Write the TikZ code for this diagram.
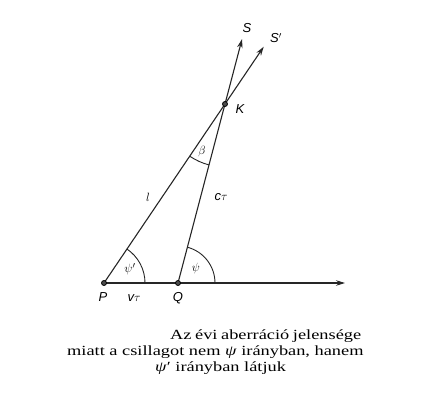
\documentclass[tikz,border=0pt]{standalone}
\usepackage{fontspec}
\setmainfont{Liberation Serif}[FakeStretch=1.31]
\newfontfamily\lblfont{Liberation Sans}
\usetikzlibrary{arrows.meta,angles,calc}
\begin{document}
\begin{tikzpicture}[x=1pt,y=-1pt,
  lineq/.style={line width=1.1pt,draw=black!85},
  arrline/.style={lineq,-{Stealth[length=9pt,width=5.5pt]}},
  dotnode/.style={circle,draw=black,fill=black!70,line width=0.8pt,inner sep=0pt,minimum size=5pt},
  lbltxt/.style={font=\lblfont\itshape\fontsize{13}{15}\selectfont,inner sep=0pt},
  captxt/.style={font=\fontsize{14}{16}\selectfont,inner sep=0pt,anchor=base west,text height=9.5pt,text depth=3pt},
  anglearc/.style={draw=black!85,line width=0.9pt}]
\useasboundingbox (0,0) rectangle (436,406);
\coordinate (P) at (104,283);
\coordinate (Q) at (178,283);
\coordinate (K) at (225,104);
\coordinate (E) at (345,283);
\coordinate (S) at ($(Q)!1.363!(K)$);
\coordinate (Sp) at ($(P)!1.32!(K)$);
\draw[arrline] (P) -- (E);
\draw[arrline] (P) -- (Sp);
\draw[arrline] (Q) -- (S);
\pic[anglearc,angle radius=41pt] {angle=Q--P--K};
\pic[anglearc,angle radius=37pt] {angle=E--Q--K};
\pic[anglearc,angle radius=63pt] {angle=P--K--Q};
\node[dotnode] (nP) at (P) {};
\node[dotnode] (nQ) at (Q) {};
\node[dotnode] (nK) at (K) {};
\node[lbltxt] (lS) at (247,28) {S};
\node[lbltxt] (lSp) at (276,38) {S$'$};
\node[lbltxt] (lK) at (240,109) {K};
\node[lbltxt] (ll) at (148,197) {$l$};
\node[lbltxt] (lct) at (221,197) {c$\tau$};
\node[lbltxt] (lb) at (202,152) {$\beta$};
\node[lbltxt] (lpsip) at (130,269) {$\psi'$};
\node[lbltxt] (lpsi) at (196,268) {$\psi$};
\node[lbltxt] (lP) at (103,297) {P};
\node[lbltxt] (lvt) at (134,298) {v$\tau$};
\node[lbltxt] (lQ) at (178,298) {Q};
\node[captxt] (c1) at (170,339) {Az\hspace{-1pt} évi\hspace{-1pt} aberráció\hspace{-1pt} jelensége};
\node[captxt] (c2) at (67,355) {miatt a csillagot nem \textit{ψ} irányban, hanem};
\node[captxt] (c3) at (155,371) {\textit{ψ}′ irányban látjuk};
\end{tikzpicture}
\end{document}
